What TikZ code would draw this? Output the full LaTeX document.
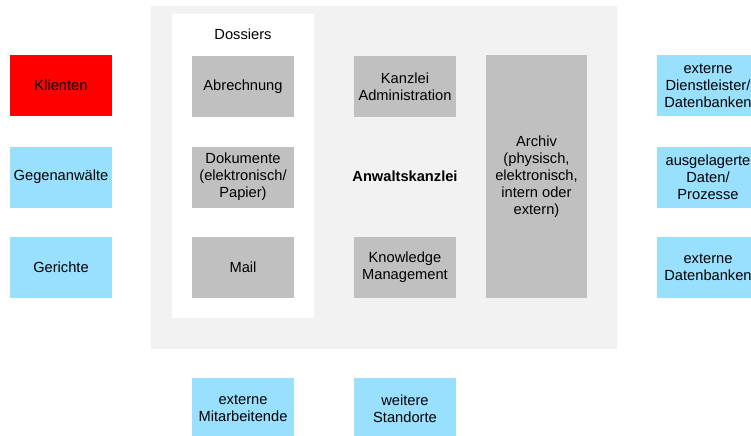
\documentclass[tikz,border=0pt]{standalone}
\usepackage{fontspec}
\setmainfont{Liberation Sans}
\usepackage{tikz}
\usetikzlibrary{positioning}
\definecolor{boxgray}{HTML}{C0C0C0}
\definecolor{extblue}{HTML}{99E0FE}
\definecolor{panelgray}{HTML}{F2F2F2}
\tikzset{
unitbox/.style={rectangle,draw=none,fill=boxgray,inner sep=0pt,
  minimum width=76.5pt,minimum height=45.75pt,align=center,
  font=\fontsize{11}{12.75}\selectfont},
extbox/.style={unitbox,fill=extblue},
clientbox/.style={unitbox,fill=red},
plainlabel/.style={inner sep=0pt,align=center,font=\fontsize{11}{12.75}\selectfont}
}
\begin{document}
\begin{tikzpicture}[x=0.75pt,y=-0.75pt]
\useasboundingbox (0,0) rectangle (751,436);
% panels
\fill[panelgray] (151,6) rectangle (617,349);
\fill[white] (172,14) rectangle (314,318);
\node[plainlabel] (dossiers) at (243,34) {Dossiers};
\node[plainlabel,font=\fontsize{11}{12.75}\selectfont\bfseries] (kanzlei) at (405,176) {Anwaltskanzlei};
% left side
\node[clientbox] (klienten) at (61,85.5) {Klienten};
\node[extbox] (gegner) at (61,177) {Gegenanw\"alte};
\node[extbox] (gerichte) at (61,267.5) {Gerichte};
% dossiers
\node[unitbox] (abrechnung) at (243,86.5) {Abrechnung};
\node[unitbox] (dokumente) at (243,177) {Dokumente\\(elektronisch/\\Papier)};
\node[unitbox] (mail) at (243,267.5) {Mail};
% inside the firm
\node[unitbox] (admin) at (405,86.5) {Kanzlei\\Administration};
\node[unitbox] (knowledge) at (405,267.5) {Knowledge\\Management};
\node[unitbox,minimum width=75.75pt,minimum height=182.25pt] (archiv) at (536.5,176.5) {Archiv\\(physisch,\\elektronisch,\\intern oder\\extern)};
% right side
\node[extbox] (dienstleister) at (708,85.5) {externe\\Dienstleister/\\Datenbanken};
\node[extbox] (ausgelagert) at (708,177) {ausgelagerte\\Daten/\\Prozesse};
\node[extbox] (datenbanken) at (708,267.5) {externe\\Datenbanken};
% bottom
\node[extbox] (mitarbeitende) at (243,408.5) {externe\\Mitarbeitende};
\node[extbox] (standorte) at (405,408.5) {weitere\\Standorte};
\end{tikzpicture}
\end{document}
